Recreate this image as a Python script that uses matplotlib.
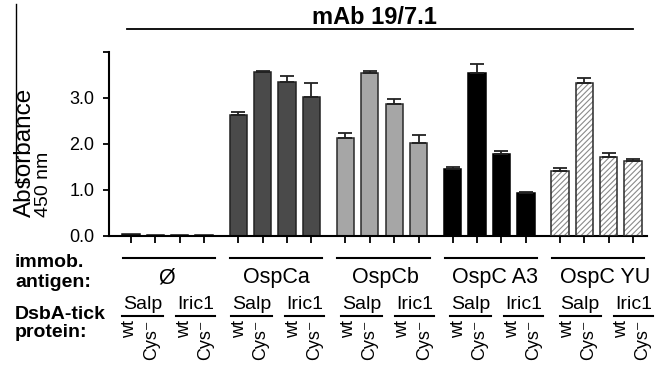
import numpy as np
import matplotlib
matplotlib.use("Agg")
import matplotlib.pyplot as plt
from matplotlib.transforms import blended_transform_factory

plt.rcParams['font.family'] = ['Liberation Sans', 'DejaVu Sans']
plt.rcParams['hatch.linewidth'] = 0.8

# Datos (absorbancia a 450 nm, mAb 19/7.1)
antigens = ["\u00d8", "OspCa", "OspCb", "OspC A3", "OspC YU"]
proteins = ["Salp", "Iric1"]
variants = ["wt", "Cys\u207b"]

values = [
    [0.04, 0.03, 0.02, 0.02],
    [2.63, 3.56, 3.35, 3.02],
    [2.14, 3.54, 2.88, 2.03],
    [1.45, 3.54, 1.78, 0.93],
    [1.41, 3.33, 1.72, 1.62],
]
errors = [
    [0.0, 0.0, 0.0, 0.0],
    [0.07, 0.03, 0.12, 0.30],
    [0.09, 0.04, 0.09, 0.16],
    [0.04, 0.21, 0.07, 0.03],
    [0.06, 0.11, 0.08, 0.05],
]

face_colors = ["#3c3c3c", "#4a4a4a", "#a6a6a6", "#000000", "#ffffff"]
edge_colors = ["#111111", "#222222", "#2a2a2a", "#000000", "#2a2a2a"]

fig = plt.figure(figsize=(6.61, 3.65), dpi=100)
W, H = 661, 365
ax = fig.add_axes([109 / W, 129 / H, 538 / W, 184 / H])

pitch = 4.4
width = 0.71
for g in range(len(antigens)):
    x = g * pitch + np.arange(4)
    v = np.array(values[g])
    e = np.array(errors[g])
    if g == 4:
        ax.bar(x, v, width=width, color="white", edgecolor="#8a8a8a",
               hatch="//////", linewidth=0, zorder=2)
        ax.bar(x, v, width=width, color="none", edgecolor=edge_colors[g],
               linewidth=1.1, zorder=3)
    else:
        ax.bar(x, v, width=width, color=face_colors[g],
               edgecolor=edge_colors[g], linewidth=1.1, zorder=2)
    if g > 0:
        ax.errorbar(x, v, yerr=[np.zeros_like(e), e], fmt="none",
                    ecolor="#222222", elinewidth=1.3, capsize=5.2,
                    capthick=1.3, zorder=4)

all_x = np.concatenate([g * pitch + np.arange(4) for g in range(len(antigens))])
ax.set_xlim(-0.9, 21.17)
ax.set_ylim(0, 4.0)
ax.set_xticks(all_x)
ax.set_xticklabels([])
ax.set_yticks([0, 1, 2, 3, 4])
ax.set_yticklabels(["0.0", "1.0", "2.0", "3.0", ""], fontsize=13)
for s in ["top", "right"]:
    ax.spines[s].set_visible(False)
for s in ["left", "bottom"]:
    ax.spines[s].set_linewidth(1.5)
ax.tick_params(axis="y", length=4.5, width=1.3, pad=6, direction="out")
ax.tick_params(axis="x", length=5, width=1.3, direction="out")

def fy(px):
    return 1 - px / H

tr = blended_transform_factory(ax.transData, fig.transFigure)

# Titulo con linea
fig.text(374 / W, fy(17), "mAb 19/7.1", ha="center", va="center",
         fontsize=17, fontweight="bold")
fig.add_artist(plt.Line2D([127 / W, 633 / W], [fy(29), fy(29)],
                          color="black", linewidth=1.3))

# Linea lateral (borde del panel)
fig.add_artist(plt.Line2D([16 / W, 16 / W], [fy(4), fy(182)],
                          color="black", linewidth=1.0))
fig.add_artist(plt.Line2D([15 / W, 28 / W], [fy(182), fy(182)],
                          color="black", linewidth=1.0))

# Etiqueta del eje Y
fig.text(25 / W, fy(217), "Absorbance", rotation=90, ha="center",
         va="bottom", fontsize=17.5)
fig.text(43 / W, fy(217), "450 nm", rotation=90, ha="center",
         va="bottom", fontsize=14)

# Etiquetas de la izquierda
for txt, yb in [("immob.", 267), ("antigen:", 287), ("DsbA-tick", 319),
                ("protein:", 337)]:
    fig.text(15 / W, fy(yb), txt, ha="left", va="baseline",
             fontsize=14, fontweight="bold")

# Tabla de etiquetas bajo el eje (ligeramente mas ancha que las barras)
label_pitch = 4.49
for g, name in enumerate(antigens):
    x0 = g * pitch
    gl, gr = x0 - 0.33, x0 + 3 + 0.45
    ax.plot([gl, gr], [fy(257.5)] * 2, transform=tr, color="black",
            linewidth=1.5, clip_on=False)
    s0 = g * label_pitch - 0.37
    ax.text(s0 + 1.85, fy(283), name, transform=tr, ha="center",
            va="baseline", fontsize=15.5)
    for p, prot in enumerate(proteins):
        sl = s0 + p * 2.22
        sr = sl + (1.68 if p == 0 else 1.6)
        ax.plot([sl, sr], [fy(316)] * 2, transform=tr, color="black",
                linewidth=1.5, clip_on=False)
        ax.text((sl + sr) / 2, fy(309), prot, transform=tr, ha="center",
                va="baseline", fontsize=14)
        ax.text(sl + 0.33, fy(319.5), variants[0], transform=tr,
                rotation=90, ha="center", va="top", fontsize=13)
        ax.text(sl + 1.2, fy(320), variants[1], transform=tr, rotation=90,
                ha="center", va="top", fontsize=13)

fig.savefig("out.png", dpi=100)
